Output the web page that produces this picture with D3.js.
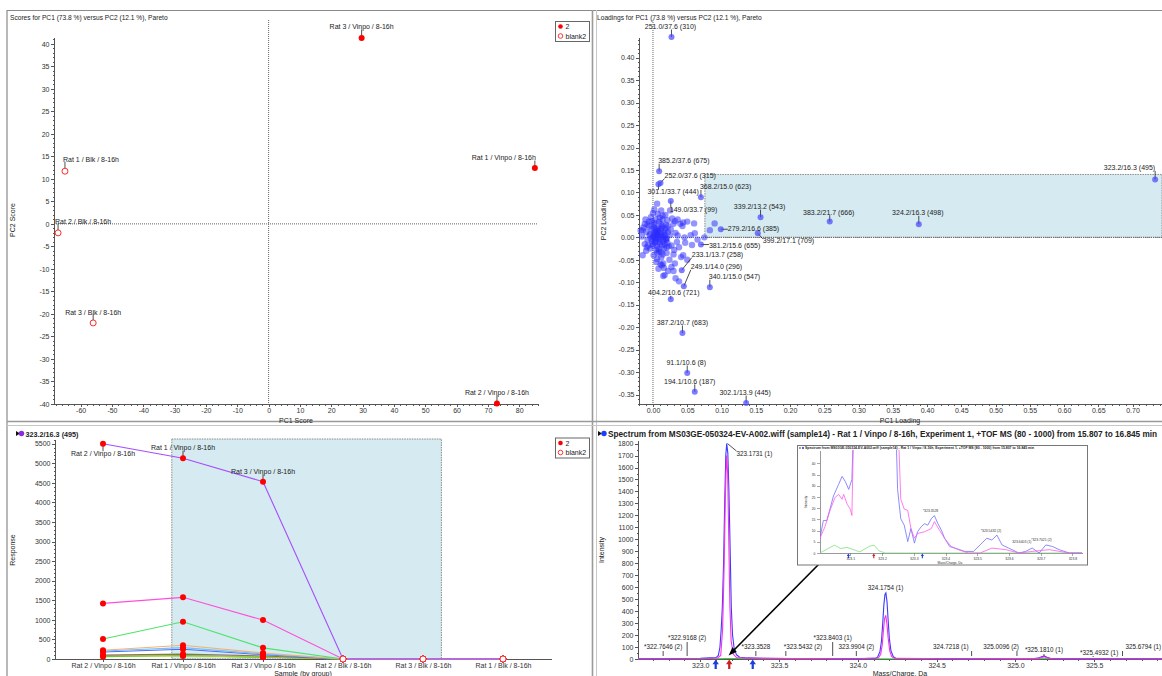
<!doctype html>
<html>
<head>
<meta charset="utf-8">
<script src="https://d3js.org/d3.v7.min.js"></script>
<style>
body { margin: 0; background: #fff; }
svg { font-family: "Liberation Sans", Arial, sans-serif; }
.axis path, .axis line { stroke: #555; shape-rendering: crispEdges; }
.axis text { fill: #333; font-size: 7px; }
.small text { font-size: 3.4px; }
.lbl { fill: #222; font-size: 7px; }
.plbl { fill: #222; font-size: 6.3px; }
.ttl { fill: #222; }
</style>
</head>
<body>
<svg width="1162" height="676"></svg>
<script>
// ---------------- data ----------------
// scores plot
var scoreNames = ["Rat 3 / Vinpo / 8-16h", "Rat 1 / Vinpo / 8-16h", "Rat 2 / Vinpo / 8-16h",
                  "Rat 1 / Blk / 8-16h", "Rat 2 / Blk / 8-16h", "Rat 3 / Blk / 8-16h"];
var scorePC1 = [29.7, 85.0, 72.9, -65.0, -67.2, -56.0];
var scorePC2 = [41.3, 12.4, -39.9, 11.7, -2.0, -22.0];
var scoreGroup = ["2", "2", "2", "blank2", "blank2", "blank2"];

// loadings plot - labelled variables
var loadNames = ["251.0/37.6 (310)", "385.2/37.6 (675)", "252.0/37.6 (315)", "301.1/33.7 (444)",
                 "149.0/33.7 (99)", "368.2/15.0 (623)", "339.2/13.2 (543)", "383.2/21.7 (666)",
                 "324.2/16.3 (498)", "323.2/16.3 (495)", "279.2/16.6 (385)", "399.2/17.1 (709)",
                 "381.2/15.6 (655)", "233.1/13.7 (258)", "249.1/14.0 (296)", "340.1/15.0 (547)",
                 "404.2/10.6 (721)", "387.2/10.7 (683)", "91.1/10.6 (8)", "194.1/10.6 (187)",
                 "302.1/13.9 (445)"];
var loadPC1 = [0.027, 0.009, 0.011, 0.008, 0.026, 0.070, 0.157, 0.258, 0.388, 0.733, 0.099, 0.153,
               0.070, 0.042, 0.045, 0.083, 0.026, 0.043, 0.050, 0.061, 0.136];
var loadPC2 = [0.446, 0.147, 0.121, 0.118, 0.081, 0.089, 0.045, 0.035, 0.029, 0.129, 0.018, 0.009,
               -0.016, -0.073, -0.109, -0.111, -0.138, -0.213, -0.302, -0.344, -0.369];
// loadings plot - unlabelled variables near the origin
var clusterPC1 = [0.000, 0.005, 0.010, -0.005, 0.003, 0.008, 0.012, -0.002, 0.006, 0.015, -0.008, 0.002,
  0.011, 0.018, 0.020, -0.010, 0.004, 0.009, 0.016, -0.004, 0.014, 0.022, 0.025, -0.012, 0.001, 0.012,
  0.020, 0.027, -0.014, 0.007, 0.002, 0.006, 0.018, 0.030, 0.033, 0.035, -0.016, -0.018, 0.005, 0.015,
  0.024, 0.030, 0.038, 0.028, 0.040, -0.006, -0.010, 0.010, 0.007, 0.003, 0.013, -0.001, 0.017, 0.009,
  0.004, 0.019, 0.023, -0.007, 0.011, 0.005, -0.003, 0.031, 0.036, 0.026, 0.021, -0.012, 0.008, 0.016,
  0.044, 0.047, 0.012, 0.025, 0.036, 0.043, 0.050, -0.015, 0.000, 0.060, 0.083, 0.090, 0.032, 0.044,
  0.041, 0.032, 0.017, 0.033, 0.038, 0.013, -0.015, -0.009, 0.061, 0.057, 0.022, 0.050, 0.055, 0.046,
  0.065, 0.030, 0.075, 0.027, 0.015, -0.011, 0.001, 0.006, 0.014, 0.019,
  0.001, 0.004, 0.007, 0.010, 0.013, 0.016, 0.019, 0.022, -0.003, -0.006, 0.002, 0.005, 0.008, 0.011,
  0.014, 0.017, 0.020, -0.001, -0.004, 0.003, 0.006, 0.009, 0.012, 0.015, 0.018, 0.021, 0.000, 0.004,
  0.008, 0.012, 0.016, -0.008, -0.002, 0.006, 0.010, 0.014, 0.002, 0.007];
var clusterPC2 = [0.000, 0.010, -0.005, 0.005, -0.012, 0.020, 0.008, 0.018, -0.020, -0.010, -0.006, 0.028,
  0.030, 0.015, -0.002, 0.012, 0.040, -0.032, -0.025, -0.025, 0.040, 0.025, 0.005, -0.015, -0.040, -0.045,
  -0.035, -0.018, 0.022, 0.052, 0.062, 0.075, 0.050, 0.030, 0.010, -0.010, 0.002, 0.015, -0.055, -0.058,
  -0.050, -0.038, -0.022, 0.042, 0.030, 0.035, -0.030, 0.000, 0.005, 0.008, -0.018, -0.008, 0.005, 0.012,
  -0.004, 0.028, -0.020, -0.018, -0.060, 0.015, 0.045, -0.028, 0.004, 0.018, 0.038, 0.030, -0.070, -0.068,
  -0.040, -0.012, 0.060, 0.060, 0.040, 0.025, 0.035, -0.040, 0.054, 0.031, 0.016, 0.031, 0.036, 0.033,
  -0.044, -0.058, -0.084, -0.091, -0.098, -0.062, 0.016, -0.022, 0.009, -0.017, -0.075, -0.050, 0.005, 0.000,
  -0.005, -0.075, 0.000, -0.066, -0.086, 0.040, 0.022, -0.048, 0.048, -0.003,
  0.003, -0.008, 0.015, -0.014, 0.022, 0.002, -0.006, 0.012, -0.003, 0.024, 0.032, -0.028, -0.010, 0.018,
  0.026, -0.016, -0.022, -0.015, 0.008, 0.000, -0.035, 0.035, 0.004, -0.004, 0.020, -0.012, -0.018, 0.020,
  -0.026, -0.033, 0.010, 0.028, 0.036, 0.006, 0.044, -0.038, 0.011, -0.001];

// response profile of the selected variable and some others
var samples = ["Rat 2 / Vinpo / 8-16h", "Rat 1 / Vinpo / 8-16h", "Rat 3 / Vinpo / 8-16h",
               "Rat 2 / Blk / 8-16h", "Rat 3 / Blk / 8-16h", "Rat 1 / Blk / 8-16h"];
var sampleGroup = ["2", "2", "2", "blank2", "blank2", "blank2"];
var resp323 = [5500, 5130, 4530, 0, 0, 0];
var respMagenta = [1420, 1575, 995, 0, 0, 0];
var respGreen = [510, 950, 285, 0, 0, 0];
var respPeach = [222, 350, 153, 0, 0, 0];
var respSky = [205, 290, 130, 0, 0, 0];
var respBlue = [180, 250, 111, 0, 0, 0];
var respBrown = [100, 125, 77, 0, 0, 0];
var respOlive = [80, 77, 50, 0, 0, 0];
var respLime = [60, 90, 43, 0, 0, 0];

// spectrum
var blueMz = [322.605, 322.70, 322.80, 322.90, 323.00, 323.06, 323.10, 323.115, 323.125, 323.133, 323.14,
  323.148, 323.155, 323.162, 323.168, 323.175, 323.182, 323.19, 323.197, 323.205, 323.215, 323.23, 323.25,
  323.30, 323.35, 323.40, 323.55, 323.70, 323.85, 324.00, 324.11, 324.125, 324.14, 324.15, 324.158, 324.165,
  324.172, 324.178, 324.185, 324.192, 324.20, 324.21, 324.225, 324.24, 324.30, 324.50, 324.80, 325.00,
  325.12, 325.15, 325.17, 325.185, 325.20, 325.22, 325.25, 325.40, 325.60, 325.80, 325.93];
var blueInt = [3, 3, 3, 4, 6, 9, 12, 30, 100, 250, 430, 800, 1300, 1700, 1800, 1720, 1400, 900, 430, 200,
  90, 35, 15, 9, 8, 6, 4, 4, 3, 3, 5, 15, 60, 150, 300, 450, 540, 553, 480, 330, 170, 70, 20, 6, 4, 3, 3, 3,
  4, 10, 20, 24, 15, 6, 3, 3, 3, 3, 3];
var magMz = [322.605, 322.90, 323.05, 323.11, 323.13, 323.142, 323.152, 323.16, 323.167, 323.174,
  323.181, 323.188, 323.196, 323.21, 323.23, 323.30, 323.60, 324.00, 324.13, 324.145, 324.155,
  324.163, 324.17, 324.177, 324.184, 324.192, 324.202, 324.215, 324.235, 324.60, 325.14, 325.165, 325.183,
  325.20, 325.225, 325.50, 325.93];
var magInt = [2, 2, 4, 8, 30, 250, 800, 1400, 1700, 1550, 1000, 450, 150, 40, 12, 6, 3, 2, 8,
  40, 120, 250, 340, 365, 300, 180, 70, 20, 5, 2, 3, 12, 19, 10, 3, 2, 2];
var greenMz = [322.605, 322.80, 323.00, 323.05, 323.09, 323.20, 323.40, 323.80, 324.20, 324.60, 325.00, 325.20, 325.93];
var greenInt = [1, 2, 1, 3, 2, 4, 1, 2, 1, 2, 1, 3, 1];
var peakMz = [322.7646, 322.9168, 323.1731, 323.3528, 323.5432, 323.8403, 323.9904, 324.1754,
              324.7218, 325.0096, 325.1810, 325.4932, 325.6794];
var peakText = ["*322.7646 (2)", "*322.9168 (2)", "323.1731 (1)", "*323.3528", "*323.5432 (2)",
                "*323.8403 (1)", "323.9904 (2)", "324.1754 (1)", "324.7218 (1)", "325.0096 (2)",
                "*325.1810 (1)", "*325.4932 (1)", "325.6794 (1)"];
var peakInt = [0, 0, 1800, 0, 0, 0, 0, 553, 0, 0, 0, 0, 0];
var markerBlueMz = [323.098, 323.333];
var markerRedMz = [323.184];

// inset: baseline zoom of the same spectrum
var inBlueMz = [323.0045, 323.015, 323.026, 323.036, 323.047, 323.063, 323.074, 323.084, 323.095, 323.105,
  323.111, 323.17, 323.243, 323.249, 323.259, 323.270, 323.281, 323.291, 323.302, 323.312, 323.323, 323.334,
  323.344, 323.355, 323.365, 323.376, 323.387, 323.397, 323.413, 323.429, 323.461, 323.488, 323.509, 323.530,
  323.546, 323.562, 323.578, 323.599, 323.631, 323.652, 323.673, 323.695, 323.716, 323.737, 323.758, 323.790, 323.83];
var inBlueInt = [6.6, 14.5, 14.5, 19.7, 25.5, 30.6, 34.2, 32, 28.4, 32.8, 60, 1800, 60, 28.4, 15.3, 12.4, 5.1,
  10.9, 4.4, 9.5, 11.7, 13.1, 12.4, 15.3, 16.7, 13.1, 10.2, 6.6, 2.9, 2.2, 0.7, 0.7, 3.6, 6.6, 5.8, 8, 3.6, 2.2,
  0, 0.7, 2.2, 0, 3.6, 2.9, 1.5, 0, 0];
var inMagMz = [323.0045, 323.02, 323.036, 323.052, 323.063, 323.074, 323.079, 323.09, 323.10, 323.105, 323.111,
  323.17, 323.25, 323.259, 323.27, 323.281, 323.291, 323.302, 323.312, 323.334, 323.355, 323.365, 323.381,
  323.397, 323.418, 323.44, 323.472, 323.509, 323.546, 323.59, 323.631, 323.673, 323.727, 323.79, 323.83];
var inMagInt = [6.6, 11.7, 19, 24.8, 26.2, 24, 26.2, 21.8, 19.6, 16.8, 60, 1760, 60, 24, 19.6, 19, 10.9, 6.6,
  8.7, 9.5, 10.9, 14, 10.2, 6.6, 2.9, 1.5, 0, 0, 2.2, 1.5, 0, 0.7, 1.5, 0, 0];
var inGreenMz = [323.0045, 323.03, 323.05, 323.07, 323.09, 323.11, 323.13, 323.16, 323.175, 323.19, 323.21, 323.83];
var inGreenInt = [0, 2, 3.5, 2, 2.5, 1.5, 0.5, 3, 3.5, 1, 0, 0];
var inPeakMz = [323.3528, 323.5432, 323.6403, 323.7021];
var inPeakText = ["*323.3528", "*323.5432 (2)", "323.6403 (1)", "*323.7021 (2)"];
var inPeakInt = [17, 8, 3, 4];

var specTitle = "Spectrum from MS03GE-050324-EV-A002.wiff (sample14) - Rat 1 / Vinpo / 8-16h, Experiment 1, +TOF MS (80 - 1000) from 15.807 to 16.845 min";

// ---------------- helpers ----------------
var svg = d3.select("svg");
var plain = function (d) { return String(d); };
var fix2 = function (d) { return (Math.abs(d) < 1e-9 ? 0 : d).toFixed(2); };
var fix1 = function (d) { return d.toFixed(1); };

function fit(sel, w) {
  var fs = parseFloat(sel.style("font-size"));
  var l = sel.node().getComputedTextLength();
  sel.style("font-size", (fs * w / l) + "px");
}

function axes(g, x, y, o) {
  var yb = y.range()[0], xl = x.range()[0];
  var ax = d3.axisBottom(x).tickValues(o.xt).tickSize(3).tickSizeOuter(0).tickPadding(1.5)
    .tickFormat(o.xf || plain);
  g.append("g").attr("class", "axis " + (o.cls || "")).attr("transform", "translate(0," + yb + ")").call(ax);
  if (o.xm) g.append("g").attr("class", "axis").attr("transform", "translate(0," + yb + ")")
    .call(d3.axisBottom(x).tickValues(o.xm).tickSize(1.5).tickSizeOuter(0).tickFormat(""));
  var ay = d3.axisLeft(y).tickValues(o.yt).tickSize(3).tickSizeOuter(0).tickPadding(1.5)
    .tickFormat(o.yf || plain);
  g.append("g").attr("class", "axis " + (o.cls || "")).attr("transform", "translate(" + xl + ",0)").call(ay);
  if (o.ym) g.append("g").attr("class", "axis").attr("transform", "translate(" + xl + ",0)")
    .call(d3.axisLeft(y).tickValues(o.ym).tickSize(1.5).tickSizeOuter(0).tickFormat(""));
}

function label(lineLayer, textLayer, px, py, text, p, cls) {
  var t = textLayer.append("text").attr("class", cls || "lbl")
    .attr("x", px + p[0]).attr("y", py + p[1])
    .attr("text-anchor", p[2] || "middle").text(text);
  var b = t.node().getBBox();
  var qx = Math.max(b.x, Math.min(px, b.x + b.width));
  var qy = Math.max(b.y + 1.5, Math.min(py, b.y + b.height - 1.5));
  if (Math.hypot(qx - px, qy - py) > 3)
    lineLayer.append("line").attr("x1", px).attr("y1", py).attr("x2", qx).attr("y2", qy)
      .attr("stroke", "#222").attr("stroke-width", 0.8);
}

function legend(g, x, y) {
  g.append("rect").attr("x", x).attr("y", y).attr("width", 34).attr("height", 20)
    .attr("fill", "#fff").attr("stroke", "#666").attr("stroke-width", 1);
  g.append("circle").attr("cx", x + 5).attr("cy", y + 5).attr("r", 2.3).attr("fill", "#ff0000");
  g.append("circle").attr("cx", x + 5).attr("cy", y + 14.5).attr("r", 2.3).attr("fill", "#fff")
    .attr("stroke", "#ff2020").attr("stroke-width", 0.9);
  g.append("text").attr("class", "lbl").attr("x", x + 10).attr("y", y + 7.5).text("2");
  g.append("text").attr("class", "lbl").attr("x", x + 10).attr("y", y + 17).text("blank2");
}

function dot(g, cx, cy, grp) {
  if (grp === "2") g.append("circle").attr("cx", cx).attr("cy", cy).attr("r", 3).attr("fill", "#ff0000");
  else g.append("circle").attr("cx", cx).attr("cy", cy).attr("r", 3).attr("fill", "#fff")
    .attr("stroke", "#ff2a2a").attr("stroke-width", 1);
}

function upArrow(g, x, y, color, s) {
  g.append("path").attr("d", "M" + x + "," + y + "l" + (-2 * s) + "," + (3 * s) + "h" + (1.3 * s) + "v" + (3 * s) +
    "h" + (1.4 * s) + "v" + (-3 * s) + "h" + (1.3 * s) + "z").attr("fill", color);
}

// ---------------- frame ----------------
var frame = svg.append("g");
frame.append("line").attr("x1", 7).attr("x2", 1162).attr("y1", 10.5).attr("y2", 10.5).attr("stroke", "#8a8a8a").attr("stroke-width", 1.2);
frame.append("line").attr("x1", 7).attr("x2", 7).attr("y1", 10).attr("y2", 676).attr("stroke", "#8a8a8a").attr("stroke-width", 1.2);
frame.append("line").attr("x1", 592.5).attr("x2", 592.5).attr("y1", 10).attr("y2", 676).attr("stroke", "#9a9a9a").attr("stroke-width", 1.6);
frame.append("line").attr("x1", 596.5).attr("x2", 596.5).attr("y1", 10).attr("y2", 676).attr("stroke", "#c8c8c8").attr("stroke-width", 1);
frame.append("line").attr("x1", 7).attr("x2", 1162).attr("y1", 421.5).attr("y2", 421.5).attr("stroke", "#9a9a9a").attr("stroke-width", 1.6);
frame.append("line").attr("x1", 7).attr("x2", 1162).attr("y1", 425.5).attr("y2", 425.5).attr("stroke", "#c8c8c8").attr("stroke-width", 1);

// ================= scores (top left) =================
var g1 = svg.append("g");
var sx = d3.scaleLinear().domain([-68.5, 86]).range([54, 538]);
var sy = d3.scaleLinear().domain([-40, 41.5]).range([404, 37]);
fit(g1.append("text").attr("class", "ttl").attr("x", 10).attr("y", 19.5).style("font-size", "7px")
  .text("Scores for PC1 (73.8 %) versus PC2 (12.1 %), Pareto"), 158);
g1.append("line").attr("x1", sx(0)).attr("x2", sx(0)).attr("y1", 20).attr("y2", 404)
  .attr("stroke", "#666").attr("stroke-dasharray", "1,1");
g1.append("line").attr("x1", 54).attr("x2", 538).attr("y1", sy(0)).attr("y2", sy(0))
  .attr("stroke", "#666").attr("stroke-dasharray", "1,1");
axes(g1, sx, sy, {
  xt: d3.range(-60, 81, 10), xm: d3.range(-68, 87, 2).filter(function (v) { return v % 10; }),
  yt: d3.range(-40, 41, 5), ym: d3.range(-40, 42, 1).filter(function (v) { return v % 5; })
});
g1.append("text").attr("class", "lbl").attr("x", 296).attr("y", 423).attr("text-anchor", "middle").text("PC1 Score");
g1.append("text").attr("class", "lbl").attr("transform", "translate(15,220) rotate(-90)").attr("text-anchor", "middle").text("PC2 Score");
var scorePlace = [[0, -9, "middle"], [1, -8, "end"], [0, -9, "middle"], [-2, -9, "start"], [-3, -9, "start"], [0, -8, "middle"]];
var l1 = g1.append("g"), m1 = g1.append("g"), t1 = g1.append("g");
scoreNames.forEach(function (n, i) {
  var px = sx(scorePC1[i]), py = sy(scorePC2[i]);
  label(l1, t1, px, py, n, scorePlace[i]);
  dot(m1, px, py, scoreGroup[i]);
});
legend(g1, 555.5, 21.5);

// ================= loadings (top right) =================
var g2 = svg.append("g");
var lx = d3.scaleLinear().domain([-0.0204, 0.743]).range([639, 1162]);
var ly = d3.scaleLinear().domain([-0.371, 0.446]).range([404, 37]);
fit(g2.append("text").attr("class", "ttl").attr("x", 597).attr("y", 19.5).style("font-size", "7px")
  .text("Loadings for PC1 (73.8 %) versus PC2 (12.1 %), Pareto"), 165);
g2.append("rect").attr("x", lx(0.0758)).attr("y", ly(0.14)).attr("width", 1162 - lx(0.0758))
  .attr("height", ly(0) - ly(0.14)).attr("fill", "#d5eaf1").attr("stroke", "#8a8a8a")
  .attr("stroke-dasharray", "1.5,1");
g2.append("line").attr("x1", lx(0)).attr("x2", lx(0)).attr("y1", 20).attr("y2", 404)
  .attr("stroke", "#666").attr("stroke-dasharray", "1,1");
g2.append("line").attr("x1", 639).attr("x2", 1162).attr("y1", ly(0)).attr("y2", ly(0))
  .attr("stroke", "#666").attr("stroke-dasharray", "1,1");
axes(g2, lx, ly, {
  xt: d3.range(0, 0.701, 0.05), xf: fix2,
  xm: d3.range(-0.02, 0.741, 0.01),
  yt: d3.range(-0.35, 0.401, 0.05), yf: fix2,
  ym: d3.range(-0.37, 0.445, 0.01)
});
g2.append("text").attr("class", "lbl").attr("x", 900).attr("y", 423).attr("text-anchor", "middle").text("PC1 Loading");
g2.append("text").attr("class", "lbl").attr("transform", "translate(606,220) rotate(-90)").attr("text-anchor", "middle").text("PC2 Loading");
g2.append("g").selectAll("circle").data(clusterPC1).join("circle")
  .attr("cx", function (d) { return lx(d); })
  .attr("cy", function (d, i) { return ly(clusterPC2[i]); })
  .attr("r", 3.2).attr("fill", "#2a2aff").attr("fill-opacity", 0.5);
var loadPlace = [[-1, -8, "middle"], [-1, -8, "start"], [4, -5, "start"], [-11, 10, "start"], [-1, 11, "start"],
  [-1, -8, "start"], [-1, -8, "middle"], [-1, -7, "middle"], [-1, -9, "middle"], [0, -9, "end"],
  [7, 2, "start"], [5, 10, "start"], [8, 3, "start"], [10, -13, "start"], [7, -17, "start"],
  [-1, -8, "start"], [3, -4, "middle"], [0, -8, "middle"], [-1, -8, "middle"], [-5, -8, "middle"],
  [-1, -8, "middle"]];
var l2 = g2.append("g"), m2 = g2.append("g"), t2 = g2.append("g");
loadNames.forEach(function (n, i) {
  var px = lx(loadPC1[i]), py = ly(loadPC2[i]);
  label(l2, t2, px, py, n, loadPlace[i]);
  m2.append("circle").attr("cx", px).attr("cy", py).attr("r", 3).attr("fill", "#4646ff").attr("fill-opacity", 0.7);
});

// ================= response profile (bottom left) =================
var g3 = svg.append("g");
var rx = d3.scaleLinear().domain([-0.6, 5.6]).range([55, 551]);
var ry = d3.scaleLinear().domain([0, 5620]).range([659, 439]);
g3.append("path").attr("d", "M16,431l4,2.5l-4,2.5z").attr("fill", "#111");
g3.append("circle").attr("cx", 21.5).attr("cy", 433.5).attr("r", 2.7).attr("fill", "#8a2be2");
fit(g3.append("text").attr("class", "ttl").attr("x", 25.5).attr("y", 436.5).style("font-size", "7px")
  .style("font-weight", "bold").text("323.2/16.3 (495)"), 53);
g3.append("rect").attr("x", rx(0.86)).attr("y", ry(5620)).attr("width", rx(4.23) - rx(0.86))
  .attr("height", ry(0) - ry(5620)).attr("fill", "#d5eaf1").attr("stroke", "#8a8a8a")
  .attr("stroke-dasharray", "1.5,1");
axes(g3, rx, ry, {
  xt: d3.range(0, 6), xf: function (d) { return samples[d]; },
  yt: d3.range(0, 5501, 500), ym: d3.range(0, 5601, 100).filter(function (v) { return v % 500; })
});
g3.append("text").attr("class", "lbl").attr("x", 303).attr("y", 676).attr("text-anchor", "middle").text("Sample (by group)");
g3.append("text").attr("class", "lbl").attr("transform", "translate(15,550) rotate(-90)").attr("text-anchor", "middle").text("Response");
var respSeries = [respLime, respOlive, respBrown, respBlue, respSky, respPeach, respGreen, respMagenta, resp323];
var respColors = ["#2fbf2f", "#b8d020", "#8c7058", "#4f6cf0", "#6fc3f5", "#f5b07a", "#4de36a", "#ff4fd8", "#a64dff"];
var rline = d3.line().x(function (d, i) { return rx(i); }).y(function (d) { return ry(d); });
g3.append("g").selectAll("path").data(respSeries).join("path")
  .attr("d", rline).attr("fill", "none").attr("stroke-width", 1.1)
  .attr("stroke", function (d, i) { return respColors[i]; });
var l3 = g3.append("g"), m3 = g3.append("g"), t3 = g3.append("g");
respSeries.forEach(function (s) {
  s.forEach(function (v, i) { dot(m3, rx(i), ry(v), sampleGroup[i]); });
});
var respPlace = [[0, 12, "middle"], [0, -8, "middle"], [0, -8, "middle"]];
[0, 1, 2].forEach(function (i) {
  label(l3, t3, rx(i), ry(resp323[i]), samples[i], respPlace[i]);
});
legend(g3, 555.5, 438);

// ================= spectrum (bottom right) =================
var g4 = svg.append("g");
var mx = d3.scaleLinear().domain([322.605, 325.93]).range([638, 1162]);
var my = d3.scaleLinear().domain([0, 1830]).range([659, 440]);
g4.append("path").attr("d", "M598,431l4,2.5l-4,2.5z").attr("fill", "#111");
g4.append("circle").attr("cx", 604).attr("cy", 433.5).attr("r", 2.7).attr("fill", "#1a3cff");
fit(g4.append("text").attr("class", "ttl").attr("x", 608).attr("y", 436.5).style("font-size", "7px")
  .style("font-weight", "bold").text(specTitle), 550);
g4.append("clipPath").attr("id", "specClip").append("rect").attr("x", 638).attr("y", 438).attr("width", 524).attr("height", 222);
axes(g4, mx, my, {
  xt: d3.range(323, 325.6, 0.5), xf: fix1,
  xm: d3.range(322.7, 325.95, 0.1),
  yt: d3.range(0, 1801, 100), ym: d3.range(50, 1801, 100)
});
g4.append("text").attr("class", "lbl").attr("x", 900).attr("y", 676).attr("text-anchor", "middle").text("Mass/Charge, Da");
g4.append("text").attr("class", "lbl").attr("transform", "translate(604,550) rotate(-90)").attr("text-anchor", "middle").text("Intensity");
function specLine(xs, ys, xsc, ysc) {
  return d3.line().x(function (d, i) { return xsc(xs[i]); }).y(function (d) { return ysc(d); })(ys);
}
var sp = g4.append("g").attr("clip-path", "url(#specClip)");
sp.append("path").attr("d", specLine(greenMz, greenInt, mx, my)).attr("fill", "none").attr("stroke", "#35c235").attr("stroke-width", 1);
sp.append("path").attr("d", specLine(blueMz, blueInt, mx, my)).attr("fill", "none").attr("stroke", "#3b3bff").attr("stroke-width", 1.1);
sp.append("path").attr("d", specLine(magMz, magInt, mx, my)).attr("fill", "none").attr("stroke", "#ff2ee0").attr("stroke-width", 1.1);
var l4 = g4.append("g"), t4 = g4.append("g");
var peakPlace = [[0, -7, "middle"], [0, -16, "middle"], [9, 12, "start"], [0, -7, "middle"], [-2, -7, "start"],
  [0, -16, "middle"], [0, -7, "middle"], [0, -3, "middle"], [-3, -7, "end"], [2, -7, "end"],
  [0, -4, "middle"], [6, -1, "middle"], [3, -7, "start"]];
peakMz.forEach(function (m, i) {
  var px = mx(m), py = peakInt[i] ? my(peakInt[i]) : my(0) - 3;
  var p = peakPlace[i];
  if (!peakInt[i]) {
    t4.append("text").attr("class", "plbl").attr("x", px + p[0]).attr("y", py + p[1])
      .attr("text-anchor", p[2]).text(peakText[i]);
    l4.append("line").attr("x1", px).attr("x2", px).attr("y1", py + p[1] + 2).attr("y2", py)
      .attr("stroke", "#222").attr("stroke-width", 0.8);
  } else {
    label(l4, t4, px, py, peakText[i], p, "plbl");
  }
});
markerBlueMz.forEach(function (m) { upArrow(g4, mx(m), 659.5, "#1f3fd8", 1.6); });
markerRedMz.forEach(function (m) { upArrow(g4, mx(m), 659.5, "#cc2020", 1.6); });

// ---- inset ----
var gi = svg.append("g");
gi.append("rect").attr("x", 797.5).attr("y", 445.5).attr("width", 290).attr("height", 119.5)
  .attr("fill", "#fff").attr("stroke", "#777").attr("stroke-width", 1);
var ix = d3.scaleLinear().domain([323.0045, 323.83]).range([820, 1082]);
var iy = d3.scaleLinear().domain([0, 46]).range([553, 450]);
gi.append("path").attr("d", "M799.5,447l1.6,1l-1.6,1z").attr("fill", "#111");
gi.append("circle").attr("cx", 803).attr("cy", 448).attr("r", 1.1).attr("fill", "#1a3cff");
fit(gi.append("text").attr("class", "ttl").attr("x", 805).attr("y", 449.3).style("font-size", "3px")
  .style("font-weight", "bold").text(specTitle), 230);
gi.append("clipPath").attr("id", "inClip").append("rect").attr("x", 820).attr("y", 450).attr("width", 264).attr("height", 103.5);
var ia = gi.append("g");
axes(ia, ix, iy, {
  cls: "small",
  xt: d3.range(323.1, 323.81, 0.1), xf: fix1,
  yt: d3.range(0, 41, 5)
});
ia.selectAll(".axis line").attr("stroke-width", 0.5);
ia.selectAll(".axis path").attr("stroke-width", 0.6);
gi.append("text").attr("x", 950).attr("y", 563.5).attr("text-anchor", "middle").style("font-size", "3.2px").attr("fill", "#333").text("Mass/Charge, Da");
gi.append("text").attr("transform", "translate(807,502) rotate(-90)").attr("text-anchor", "middle").style("font-size", "3.4px").attr("fill", "#333").text("Intensity");
var ic = gi.append("g").attr("clip-path", "url(#inClip)");
ic.append("path").attr("d", specLine(inGreenMz, inGreenInt, ix, iy)).attr("fill", "none").attr("stroke", "#7ee07e").attr("stroke-width", 0.8);
ic.append("path").attr("d", specLine(inBlueMz, inBlueInt, ix, iy)).attr("fill", "none").attr("stroke", "#6f6fff").attr("stroke-width", 0.8);
ic.append("path").attr("d", specLine(inMagMz, inMagInt, ix, iy)).attr("fill", "none").attr("stroke", "#ff5ce8").attr("stroke-width", 0.8);
inPeakMz.forEach(function (m, i) {
  gi.append("text").attr("x", ix(m)).attr("y", iy(inPeakInt[i]) - 3).attr("text-anchor", "middle")
    .style("font-size", "3.4px").attr("fill", "#333").text(inPeakText[i]);
});
[323.094, 323.327].forEach(function (m) { upArrow(gi, ix(m), 553.5, "#1f3fd8", 0.8); });
[323.174].forEach(function (m) { upArrow(gi, ix(m), 553.5, "#cc2020", 0.8); });

// pointer arrow from the inset down to the baseline
var ax0 = [822, 561], ax1 = [mx(323.18), 655.5];
var ang = Math.atan2(ax1[1] - ax0[1], ax1[0] - ax0[0]);
g4.append("line").attr("x1", ax0[0]).attr("y1", ax0[1])
  .attr("x2", ax1[0] - 6 * Math.cos(ang)).attr("y2", ax1[1] - 6 * Math.sin(ang))
  .attr("stroke", "#000").attr("stroke-width", 1.6);
g4.append("path").attr("fill", "#000").attr("d",
  "M" + ax1[0] + "," + ax1[1] +
  "L" + (ax1[0] - 9 * Math.cos(ang - 0.35)) + "," + (ax1[1] - 9 * Math.sin(ang - 0.35)) +
  "L" + (ax1[0] - 9 * Math.cos(ang + 0.35)) + "," + (ax1[1] - 9 * Math.sin(ang + 0.35)) + "Z");
</script>
</body>
</html>
